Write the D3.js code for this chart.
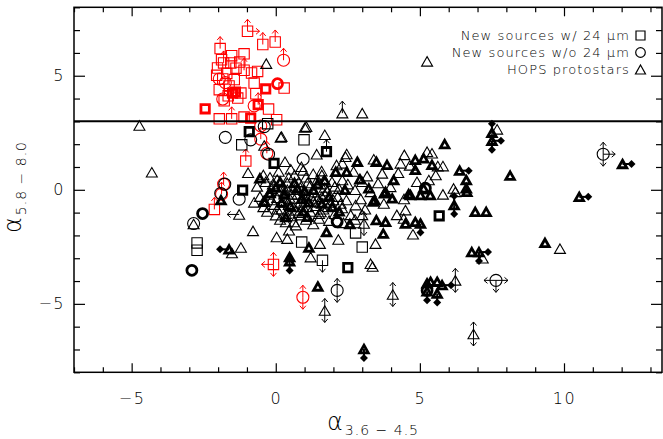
<!DOCTYPE html>
<html>
<head>
<meta charset="utf-8">
<script src="https://cdn.jsdelivr.net/npm/d3@7"></script>
<style>
  body { margin: 0; background: #fff; }
  svg { display: block; }
  text { font-family: "DejaVu Sans", "Liberation Sans", sans-serif; fill: #000; }
</style>
</head>
<body>
<svg></svg>
<script>
const size = {w: 663, h: 439};

// tick labels
const xMajor = [-5, 0, 5, 10];
const yMajor = [-5, 0, 5];
const cutLine = 3;

// [alpha_3.6-4.5, alpha_5.8-8.0, limits]  limits: u d l r
const redSquares = [
    [-0.98, 6.95, 'ur'], [-0.45, 6.37, 'u'], [-0.02, 6.48, 'u'], [-1.93, 6.19, 'u'],
    [-1.53, 5.88], [-1.10, 5.96], [-2.02, 5.34], [-1.81, 5.56, 'u'], [-1.56, 5.56],
    [-1.10, 5.24, 'u'], [-0.84, 5.12], [-0.63, 5.19], [-1.84, 4.86], [-1.44, 4.83],
    [-0.75, 4.68], [0.29, 4.46], [-1.96, 4.39], [-1.21, 4.24], [-0.69, 4.21],
    [-1.79, 3.90], [-0.25, 3.54], [-1.96, 3.11], [-1.53, 3.11, 'u'], [-1.10, 3.19],
    [0.03, 3.07], [-1.70, 5.10], [-1.62, 4.55], [-1.32, 4.02], [-1.65, 4.12],
    [-2.05, 5.02], [-1.38, 5.33], [-1.88, 5.70], [-1.25, 5.60],
    [-1.04, 1.26, 'u'], [-2.13, -0.86, 'u'], [-0.08, -3.27, 'udl']
];
const redSquaresBold = [[-0.35, 4.42], [-1.50, 4.24], [-2.45, 3.55], [-0.61, 3.73, 'u'], [-0.87, 3.14], [-1.40, 4.28]];
const redCircles = [
    [0.27, 5.68, 'u'], [-1.96, 4.86], [-1.84, 3.98], [-0.75, 3.68], [-0.52, 2.80],
    [-0.52, 2.22, 'u'], [-0.31, 1.60, 'u'], [-1.81, 0.25, 'u'], [-1.88, -0.19, 'u'],
    [0.94, -4.71, 'ud'], [-1.75, 4.70]
];
const redCirclesBold = [[0.06, 4.65]];

const newSquares = [
    [-1.18, 1.97], [0.98, 2.19], [-0.28, 2.90], [-2.73, -2.33], [-2.73, -2.65], [0.90, -2.29],
    [1.62, -3.09, 'd'], [2.77, -1.89], [3.00, -2.51]
];
const newSquaresBold = [[-0.92, 2.55], [-0.06, 1.16], [-1.15, -0.01], [1.76, 1.67, 'u'], [2.50, -3.41], [5.67, -1.14]];
const newCircles = [
    [-1.75, 2.30], [-0.87, 2.19], [-0.40, 2.77], [-0.25, 1.56], [0.95, 1.34], [-1.27, -0.41],
    [-1.77, 0.25], [-1.91, -0.16], [-2.85, -1.48], [2.13, -4.41, 'ud'], [7.64, -3.97, 'lrd'],
    [11.36, 1.56, 'udr']
];
const newCirclesBold = [[-2.54, -1.04], [-2.91, -3.53], [2.13, -1.41], [5.25, -4.41], [5.19, 0.07]];

const hops = [
    [-4.73, 2.82], [-4.30, 0.77], [-0.33, 5.53], [5.25, 5.63], [2.31, 3.36, 'u'], [3.00, 3.36],
    [0.17, 2.30], [-0.96, 0.75], [1.01, 2.73], [-0.40, 1.94], [1.06, 2.77], [0.20, 2.33],
    [1.70, 2.41], [2.46, 1.57], [1.42, 1.56], [2.31, 1.16], [0.32, 1.23], [0.52, 0.90],
    [1.59, 0.82], [0.89, 1.01], [1.67, 0.43], [2.31, 0.43], [2.42, 1.45], [3.40, 1.34],
    [3.69, 0.72], [4.33, 1.16], [4.46, 1.53], [4.65, 1.07], [5.25, 1.67], [5.42, 1.60],
    [5.80, 1.04], [5.62, 1.04], [6.17, 0.06], [3.17, 0.60], [2.11, 1.09], [3.98, 0.13],
    [5.31, 0.43], [3.29, -0.09], [3.75, -0.60], [6.23, -0.09], [4.50, -0.89], [4.44, -1.26],
    [4.76, -1.95], [3.46, -2.36], [3.06, -1.48, 'ud'], [3.29, -3.24], [3.36, -3.36],
    [7.68, 2.65], [9.86, -2.58], [6.23, -3.97, 'ud'], [6.86, -6.32, 'ud'], [4.06, -4.59, 'ud'],
    [1.70, -5.29, 'ud'], [0.03, -2.07], [0.40, -2.14], [0.46, -1.77], [0.63, -1.41],
    [0.35, -1.41], [1.50, -1.26], [1.21, -2.95], [1.53, -2.36], [2.17, -2.18], [-0.43, -0.75],
    [0.00, -1.11], [0.87, -1.11], [1.56, -0.97], [2.77, -0.67], [-1.27, -1.08, 'l'],
    [-0.79, -1.80], [-1.21, -2.53], [-1.52, -2.77], [7.18, -3.00], [-0.43, 0.65], [-2.85, -1.50],
    [-0.65, 0.15], [-0.35, 0.35], [-0.15, 0.05], [0.05, 0.45], [0.25, 0.15], [0.45, 0.55],
    [0.60, 0.00], [0.80, 0.35], [1.05, 0.55], [1.20, 0.20], [1.45, 0.45], [1.70, 0.10],
    [1.95, 0.35], [2.20, 0.05], [2.50, 0.25], [-0.55, -0.30], [-0.25, -0.20], [0.05, -0.35],
    [0.30, -0.10], [0.50, -0.40], [0.75, -0.20], [1.00, -0.50], [1.20, -0.25], [1.45, -0.40],
    [1.70, -0.20], [1.90, -0.55], [2.15, -0.30], [2.45, -0.45], [-0.30, -0.95], [-0.05, -0.65],
    [0.20, -0.85], [0.45, -0.65], [0.70, -0.90], [0.95, -0.75], [1.20, -0.95], [1.40, -0.70],
    [1.65, -0.85], [2.05, -1.05], [2.30, -0.80], [2.60, -1.10], [0.15, -1.30], [0.55, -1.15],
    [1.30, -1.50], [1.85, -1.35], [2.35, -1.45], [0.95, 0.85], [0.10, 0.80], [1.60, 0.65],
    [2.75, 0.00], [2.95, -0.40], [3.00, 0.35], [-0.75, -0.55], [0.70, -1.55], [2.70, 0.80],
    [3.10, -0.85], [3.55, 0.30], [4.25, 0.75], [4.45, -0.40], [4.90, 0.35], [5.55, 0.65],
    [5.80, -0.20], [4.20, -1.10], [3.00, -1.10], [2.75, -1.30],
    [-0.10, 0.25], [0.15, -0.05], [0.40, 0.30], [0.55, -0.20], [0.85, 0.10], [1.10, 0.30],
    [1.35, -0.10], [1.55, 0.25], [1.80, -0.05], [2.05, 0.15], [-0.40, -0.45], [-0.15, -0.45],
    [0.25, -0.55], [0.60, -0.75], [0.85, -0.55], [1.10, -0.75], [1.30, -0.50], [1.55, -0.55],
    [1.80, -0.75], [2.00, -0.45], [0.05, -0.85], [0.35, -1.05], [0.80, -1.00], [1.05, -1.30],
    [1.50, -1.05], [-0.20, 0.55], [0.65, 0.65], [1.30, 0.70], [2.25, -0.60], [0.40, 0.00],
    [0.95, -0.25], [1.60, -0.30]
];
const hopsBold = [
    [-0.55, 0.50], [-0.40, -0.53], [-1.90, -0.45], [0.00, 0.10], [0.30, -0.20], [0.65, 0.30],
    [0.90, -0.40], [1.30, 0.00], [1.60, -0.60], [0.20, -0.55], [1.00, -0.05], [2.08, 0.79],
    [2.46, 0.79], [2.83, 1.23], [2.92, 0.46], [1.10, -1.19], [1.15, -2.53], [1.76, -1.85],
    [2.57, -1.50], [1.96, -0.75], [0.48, -3.14, 'd'], [0.48, -2.95], [1.46, -4.24],
    [3.06, -6.98, 'd'], [-1.62, -2.61, 'l'], [3.49, 1.23], [3.86, 1.09], [4.84, 1.31],
    [5.13, 1.38], [5.42, 1.09], [4.84, 0.87], [6.38, 0.84, 'r'], [6.61, 0.43], [6.61, 0.06],
    [4.09, 0.43], [4.67, -0.23], [5.13, 0.06], [5.36, -0.23], [3.23, 0.06], [3.81, -0.09],
    [3.43, -0.45], [3.77, -0.16], [4.04, -0.38], [4.61, -0.19], [5.02, -0.23], [6.63, -0.09],
    [6.19, -0.67, 'ud'], [6.92, -0.97], [7.30, -0.97], [4.84, -1.41], [5.02, -1.48, 'd'],
    [4.50, -1.48], [3.49, -1.33], [3.81, -1.41], [3.73, -1.92], [6.80, -2.73], [7.05, -2.73, 'rd'],
    [9.34, -2.33], [5.86, 2.00], [8.13, 0.62], [7.50, 2.50, 'u'], [7.50, 2.15, 'dr'],
    [12.03, 1.13, 'r'], [10.53, -0.31, 'r'], [5.37, -4.03], [5.60, -4.03], [5.77, -4.18, 'r'],
    [5.60, -4.55, 'd'], [5.25, -4.10], [5.25, -4.45, 'd'], [3.38, -0.52],
    [0.15, 0.35], [0.50, -0.70], [0.75, 0.05], [1.15, -0.55], [1.45, 0.25], [1.85, -0.30],
    [2.20, -0.95], [-0.20, -0.15], [0.95, -0.95], [1.70, 0.40], [2.40, 0.00], [0.35, -1.20]
];

const svg = d3.select('svg')
    .attr('width', size.w)
    .attr('height', size.h);

const x = d3.scaleLinear().domain([-7, 13.4]).range([74, 662]);
const y = d3.scaleLinear().domain([-8, 8]).range([372.3, 7.3]);

// marker paths
const squarePath = s => `M${-s},${-s}H${s}V${s}H${-s}Z`;
const trianglePath = (w, h) => `M0,${-h / 2}L${w / 2},${h / 2}H${-w / 2}Z`;
const dirs = {u: [0, -1], d: [0, 1], l: [-1, 0], r: [1, 0]};

const plotG = svg.append('g').classed('points', true);

function drawMarks(data, kind, color, bold) {
    let g = plotG.append('g');
    let sel = g.selectAll(kind == 'circle' ? 'circle' : 'path')
        .data(data)
        .join(kind == 'circle' ? 'circle' : 'path')
        .attr('transform', d => `translate(${x(d[0])},${y(d[1])})`)
        .attr('fill', 'none')
        .attr('stroke', color)
        .attr('stroke-width', bold ? 2.8 : 1.1);
    if (kind == 'circle') {
        sel.attr('r', bold ? 5 : 6);
    } else if (kind == 'square') {
        sel.attr('d', squarePath(bold ? 4.2 : 5.2));
    } else {
        sel.attr('d', bold ? trianglePath(8.5, 7.5) : trianglePath(11, 9.5));
    }
}

function drawArrows(data, color, bold) {
    // one row per limit arrow
    let rows = [];
    data.forEach(d => (d[2] || '').split('').forEach(c => rows.push({p: d, v: dirs[c]})));
    let g = plotG.append('g')
        .selectAll('g')
        .data(rows)
        .join('g')
        .attr('transform', d => `translate(${x(d.p[0])},${y(d.p[1])})`);
    if (bold) {
        g.append('path')
            .attr('d', d => `M0,0L${d.v[0] * 8},${d.v[1] * 8}`)
            .attr('stroke', color)
            .attr('stroke-width', 2);
        g.append('path')
            .attr('fill', color)
            .attr('d', d => {
                let [dx, dy] = d.v, cx = dx * 9, cy = dy * 9;
                return `M${cx + dx * 4},${cy + dy * 4}L${cx - dy * 4},${cy + dx * 4}` +
                    `L${cx - dx * 4},${cy - dy * 4}L${cx + dy * 4},${cy - dx * 4}Z`;
            });
    } else {
        g.append('path')
            .attr('fill', 'none')
            .attr('stroke', color)
            .attr('stroke-width', 1)
            .attr('d', d => {
                let [dx, dy] = d.v, L = 12, tx = dx * L, ty = dy * L;
                return `M0,0L${tx},${ty}` +
                    `M${tx - dx * 3.5 - dy * 3},${ty - dy * 3.5 + dx * 3}L${tx},${ty}` +
                    `L${tx - dx * 3.5 + dy * 3},${ty - dy * 3.5 - dx * 3}`;
            });
    }
}

drawMarks(redSquares, 'square', '#ff0000', false);
drawMarks(redSquaresBold, 'square', '#ff0000', true);
drawMarks(redCircles, 'circle', '#ff0000', false);
drawMarks(redCirclesBold, 'circle', '#ff0000', true);
drawArrows(redSquares.concat(redSquaresBold, redCircles), '#ff0000', false);

drawMarks(hops, 'triangle', '#000', false);
drawArrows(hops, '#000', false);
drawMarks(newSquares, 'square', '#000', false);
drawMarks(newCircles, 'circle', '#000', false);
drawArrows(newSquares.concat(newCircles), '#000', false);
drawMarks(hopsBold, 'triangle', '#000', true);
drawArrows(hopsBold, '#000', true);
drawMarks(newSquaresBold, 'square', '#000', true);
drawMarks(newCirclesBold, 'circle', '#000', true);
drawArrows(newSquaresBold.concat(newCirclesBold), '#000', false);

// separating line
svg.append('line')
    .attr('x1', x.range()[0]).attr('x2', x.range()[1])
    .attr('y1', y(cutLine)).attr('y2', y(cutLine))
    .attr('stroke', '#000').attr('stroke-width', 2);

// --------- AXES ----------
const xMinor = d3.range(-7, 14).filter(v => v % 5 != 0);
const yMinor = d3.range(-8, 9).filter(v => v % 5 != 0);
const [x0, x1] = x.range();
const [y0, y1] = y.range();

function addAxis(axis, tx, ty) {
    let g = svg.append('g').attr('transform', `translate(${tx},${ty})`).call(axis);
    g.select('.domain').remove();
    g.selectAll('line').attr('stroke', '#000').attr('stroke-width', 1.2);
    g.selectAll('text')
        .style('font-size', '16px')
        .style('font-weight', 200)
        .style('letter-spacing', '1.5px')
        .attr('fill', '#000');
    return g;
}

addAxis(d3.axisBottom(x).tickValues(xMajor).tickSizeInner(-9).tickSizeOuter(0).tickPadding(20), 0, y0);
addAxis(d3.axisBottom(x).tickValues(xMinor).tickSize(-5).tickFormat(''), 0, y0);
addAxis(d3.axisTop(x).tickValues(xMajor).tickSize(-9).tickFormat(''), 0, y1);
addAxis(d3.axisTop(x).tickValues(xMinor).tickSize(-5).tickFormat(''), 0, y1);
addAxis(d3.axisLeft(y).tickValues(yMajor).tickSizeInner(-11).tickSizeOuter(0).tickPadding(9), x0, 0);
addAxis(d3.axisLeft(y).tickValues(yMinor).tickSize(-6).tickFormat(''), x0, 0);
addAxis(d3.axisRight(y).tickValues(yMajor).tickSize(-11).tickFormat(''), x1, 0);
addAxis(d3.axisRight(y).tickValues(yMinor).tickSize(-6).tickFormat(''), x1, 0);

svg.append('rect')
    .attr('x', x0).attr('y', y1)
    .attr('width', x1 - x0).attr('height', y0 - y1)
    .attr('fill', 'none').attr('stroke', '#000').attr('stroke-width', 1.5);

// axis titles
function axisTitle(transform, sub) {
    let t = svg.append('text').attr('transform', transform).style('font-weight', 200);
    t.append('tspan').style('font-size', '24px').text('α');
    t.append('tspan').style('font-size', '14px').style('letter-spacing', '1px')
        .attr('dx', 2).attr('dy', 5).text(sub);
}
axisTitle('translate(327,430)', '3.6 − 4.5');
axisTitle('translate(21,233) rotate(-90)', '5.8 − 8.0');

// --------- LEGEND ----------
const legendItems = [
    {label: 'New sources w/ 24 μm', kind: 'square'},
    {label: 'New sources w/o 24 μm', kind: 'circle'},
    {label: 'HOPS protostars', kind: 'triangle'}
];
const legendG = svg.append('g').classed('legend', true);
legendItems.forEach((d, i) => {
    let cy = 35.5 + i * 17;
    legendG.append('text')
        .attr('x', 630).attr('y', cy + 4.8)
        .attr('text-anchor', 'end')
        .style('font-size', '13px')
        .style('font-weight', 200)
        .style('letter-spacing', '1.1px')
        .text(d.label);
    let m = legendG.append(d.kind == 'circle' ? 'circle' : 'path')
        .attr('transform', `translate(640.5,${cy})`)
        .attr('fill', 'none').attr('stroke', '#000').attr('stroke-width', 1.2);
    if (d.kind == 'circle') m.attr('r', 4.8);
    else if (d.kind == 'square') m.attr('d', squarePath(4.5));
    else m.attr('d', trianglePath(10, 9));
});
</script>
</body>
</html>
